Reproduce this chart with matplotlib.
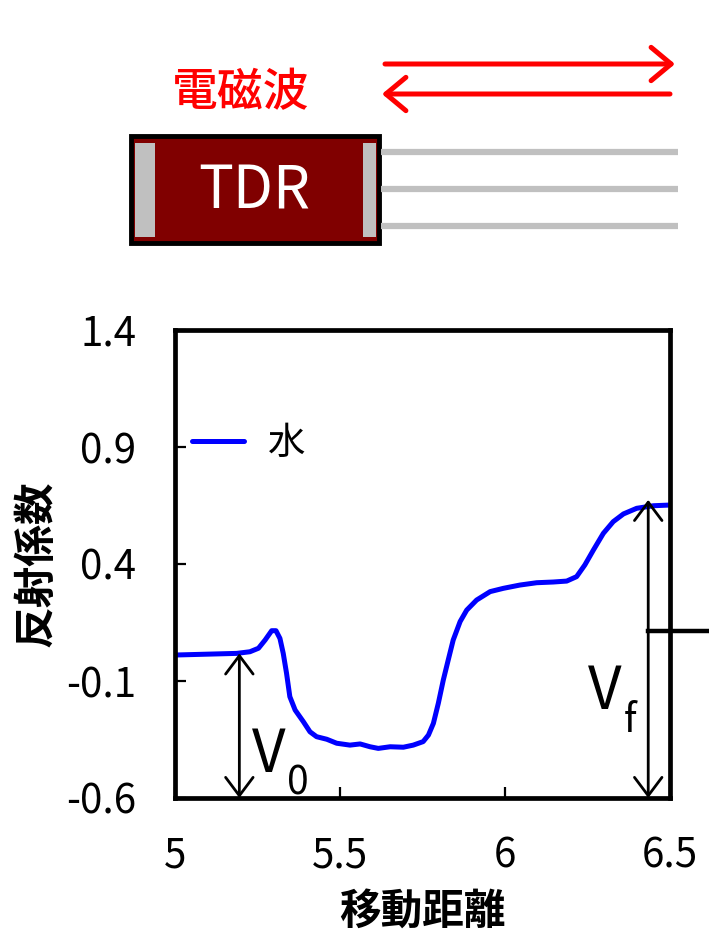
import matplotlib
matplotlib.use("Agg")
import matplotlib.pyplot as plt
from matplotlib.patches import Rectangle

plt.rcParams['font.family'] = ['Noto Sans CJK JP', 'DejaVu Sans']

# 水のTDR波形 (読み取り値)
dist = [5.0, 5.187, 5.227, 5.253, 5.273, 5.293, 5.306, 5.318, 5.328, 5.338, 5.348,
        5.364, 5.389, 5.409, 5.429, 5.46, 5.49, 5.53, 5.561, 5.591, 5.616, 5.652,
        5.692, 5.722, 5.752, 5.768, 5.783, 5.798, 5.813, 5.828, 5.843, 5.864, 5.884,
        5.914, 5.955, 5.995, 6.045, 6.096, 6.146, 6.187, 6.217, 6.242, 6.268, 6.298,
        6.328, 6.359, 6.399, 6.45, 6.5]
refl = [0.011, 0.018, 0.025, 0.040, 0.075, 0.115, 0.115, 0.082, 0.018, -0.067, -0.167,
        -0.224, -0.274, -0.317, -0.338, -0.349, -0.366, -0.374, -0.369, -0.381, -0.388, -0.381,
        -0.383, -0.374, -0.359, -0.331, -0.281, -0.195, -0.096, -0.010, 0.075, 0.154, 0.203,
        0.246, 0.282, 0.296, 0.310, 0.320, 0.323, 0.327, 0.346, 0.396, 0.460, 0.531,
        0.581, 0.614, 0.638, 0.649, 0.652]

xticks = [5, 5.5, 6, 6.5]
yticks = [-0.6, -0.1, 0.4, 0.9, 1.4]

v0_x, v0_y = 5.195, 0.018
vf_x, vf_y = 6.434, 0.674
mark_y = 0.115

W, H = 709, 934
fig = plt.figure(figsize=(W / 100, H / 100), dpi=100)

# 上部の模式図 (ピクセル座標)
top = fig.add_axes([0, 0, 1, 1])
top.set_xlim(0, W)
top.set_ylim(H, 0)
top.axis('off')
top.patch.set_alpha(0)

top.add_patch(Rectangle((131, 136), 248, 107, facecolor='#800000', edgecolor='black', lw=3.5))
top.add_patch(Rectangle((135, 143), 20, 94, facecolor='#c0c0c0', edgecolor='none'))
top.add_patch(Rectangle((363, 143), 13, 94, facecolor='#c0c0c0', edgecolor='none'))
top.text(254, 192, 'TDR', color='white', fontsize=42, ha='center', va='center')
for gy in [152, 189, 226]:
    top.plot([381, 678], [gy, gy], color='#c0c0c0', lw=4.5, solid_capstyle='butt')

arrow_red = dict(arrowstyle='->,head_length=0.6,head_width=0.5', color='#ff0000',
                 lw=3.6, mutation_scale=24, shrinkA=0, shrinkB=0)
top.annotate('', xy=(675, 64), xytext=(385, 64), arrowprops=arrow_red)
top.annotate('', xy=(382, 94), xytext=(670, 94), arrowprops=arrow_red)
top.text(241, 93, '電磁波', color='#ff0000', fontsize=33, fontweight='medium',
         ha='center', va='center')

# グラフ
ax = fig.add_axes([175 / W, 1 - 798 / H, 495 / W, 468 / H])
ax.plot(dist, refl, color='#0000ff', lw=3.6, label='水', solid_capstyle='round')
ax.set_xlim(5, 6.5)
ax.set_ylim(-0.6, 1.4)
ax.set_xticks(xticks)
ax.set_xticklabels(['5', '5.5', '6', '6.5'])
ax.set_yticks(yticks)
ax.set_yticklabels(['-0.6', '-0.1', '0.4', '0.9', '1.4'])
ax.tick_params(direction='in', length=8, width=1.6, labelsize=29)
ax.tick_params(axis='y', pad=28)
ax.tick_params(axis='x', pad=27)
for s in ax.spines.values():
    s.set_linewidth(3.4)

arrow_blk = dict(arrowstyle='<->,head_length=0.6,head_width=0.45', color='black',
                 lw=2.0, mutation_scale=22, shrinkA=0, shrinkB=0)
ax.annotate('', xy=(v0_x, v0_y), xytext=(v0_x, -0.6), arrowprops=arrow_blk)
ax.annotate('', xy=(vf_x, vf_y), xytext=(vf_x, -0.6), arrowprops=arrow_blk)
ax.plot([vf_x, 6.62], [mark_y, mark_y], color='black', lw=3.2, clip_on=False)

ax.text(5.232, -0.49, 'V', fontsize=42, ha='left', va='baseline')
ax.text(5.338, -0.585, '0', fontsize=28, ha='left', va='baseline')
ax.text(6.25, -0.22, 'V', fontsize=42, ha='left', va='baseline')
ax.text(6.36, -0.32, 'f', fontsize=28, ha='left', va='baseline')

ax.legend(loc='center left', bbox_to_anchor=(0.034, 0.758), frameon=False, fontsize=27,
          handlelength=1.4, handletextpad=0.62, borderpad=0, borderaxespad=0)

ax.set_xlabel('移動距離', fontsize=30, fontweight='bold', labelpad=10)
ax.set_ylabel('反射係数', fontsize=30, fontweight='bold', labelpad=6)

fig.savefig('out.png', dpi=100)
